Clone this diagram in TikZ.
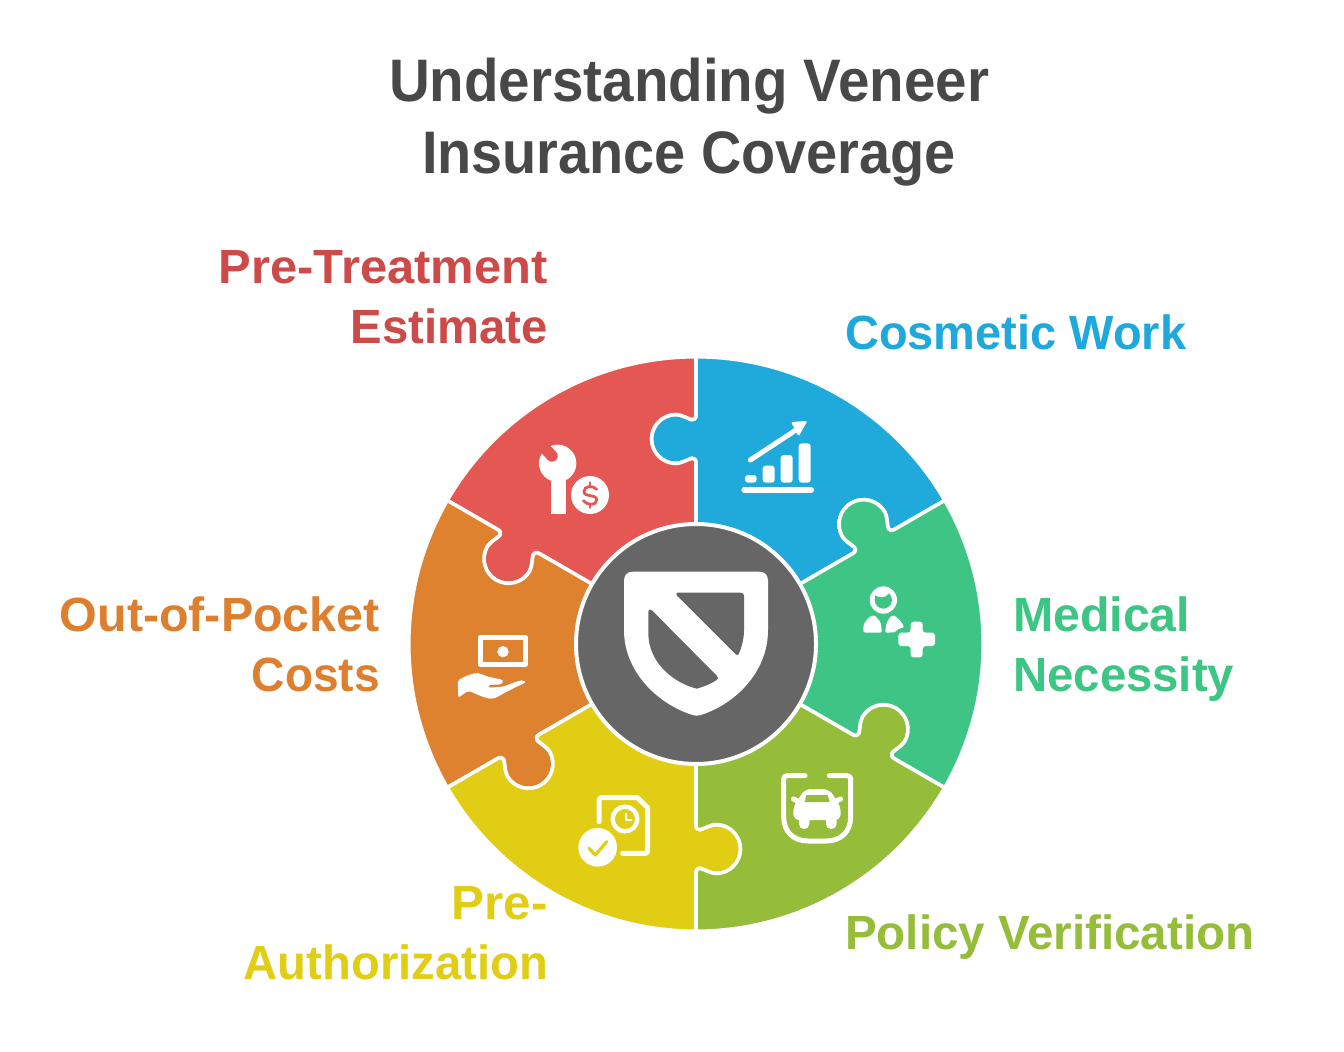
\documentclass[tikz,border=0pt]{standalone}
\usepackage{graphicx}
\usepackage{fontspec}
\setmainfont{Liberation Sans}
\definecolor{cred}{HTML}{E55753}
\definecolor{cblue}{HTML}{1FAADB}
\definecolor{cgreen}{HTML}{3EC585}
\definecolor{colive}{HTML}{95BD3A}
\definecolor{cyellow}{HTML}{E0CD14}
\definecolor{corange}{HTML}{DE8230}
\definecolor{cdark}{HTML}{666666}
\definecolor{ctitle}{HTML}{484848}
\definecolor{tred}{HTML}{CC4A48}
\definecolor{tblue}{HTML}{1EA8DC}
\definecolor{tgreen}{HTML}{3CC583}
\definecolor{tolive}{HTML}{95BD3A}
\definecolor{tyellow}{HTML}{E0CD14}
\definecolor{torange}{HTML}{DD7F2F}
\newlength\fitlen
\newcommand\fitline[2]{\settowidth{\fitlen}{#2}\pgfmathsetmacro\fitratio{#1/\fitlen}\rule{0pt}{40pt}\scalebox{\fitratio}[1]{#2}}
\newcommand\wheelpiece[2]{%
  \pgfmathsetmacro\pa{#1}\pgfmathsetmacro\pb{#1+60}%
  \path[fill=#2,draw=white,line width=3.6pt,line join=round]
    ([rotate=\pa]118,0) -- ([rotate=\pa]181,0)
    .. controls ([rotate=\pa]184.5,0) and ([rotate=\pa]186,2) .. ([rotate=\pa]185.7,4.3)
    .. controls ([rotate=\pa]184,9.5) and ([rotate=\pa]181,13.5) .. ([rotate=\pa]180.5,20)
    .. controls ([rotate=\pa]180.5,33.5) and ([rotate=\pa]191.5,44.5) .. ([rotate=\pa]205,44.5)
    .. controls ([rotate=\pa]218.5,44.5) and ([rotate=\pa]229.5,33.5) .. ([rotate=\pa]229.5,20)
    .. controls ([rotate=\pa]229,13.5) and ([rotate=\pa]226,9.5) .. ([rotate=\pa]224.3,4.3)
    .. controls ([rotate=\pa]224,2) and ([rotate=\pa]225.5,0) .. ([rotate=\pa]229,0)
    -- ([rotate=\pa]287.25,0)
    arc[start angle=\pa,end angle=\pb,radius=287.25]
    -- ([rotate=\pb]229,0)
    .. controls ([rotate=\pb]225.5,0) and ([rotate=\pb]224,2) .. ([rotate=\pb]224.3,4.3)
    .. controls ([rotate=\pb]226,9.5) and ([rotate=\pb]229,13.5) .. ([rotate=\pb]229.5,20)
    .. controls ([rotate=\pb]229.5,33.5) and ([rotate=\pb]218.5,44.5) .. ([rotate=\pb]205,44.5)
    .. controls ([rotate=\pb]191.5,44.5) and ([rotate=\pb]180.5,33.5) .. ([rotate=\pb]180.5,20)
    .. controls ([rotate=\pb]181,13.5) and ([rotate=\pb]184,9.5) .. ([rotate=\pb]185.7,4.3)
    .. controls ([rotate=\pb]186,2) and ([rotate=\pb]184.5,0) .. ([rotate=\pb]181,0)
    -- ([rotate=\pb]118,0)
    arc[start angle=\pb,end angle=\pa,radius=118] -- cycle;}
\tikzset{
  zoomed/.style 2 args={shift={(#1,-#2)},xscale=1/3,yscale=-1/3},
  titletext/.style={inner sep=0pt,anchor=north,align=center,text=ctitle,font=\fontsize{60}{72}\bfseries\selectfont},
  labelleft/.style={inner sep=0pt,anchor=north west,align=left,font=\fontsize{48}{60}\bfseries\selectfont},
  labelright/.style={inner sep=0pt,anchor=north east,align=right,font=\fontsize{48}{60}\bfseries\selectfont},
  iconline/.style={draw=white,line cap=round,line join=round,fill=none},
}
\begin{document}
\begin{tikzpicture}[x=1pt,y=1pt]
\useasboundingbox (0,0) rectangle (1344,-1052);
\fill[white] (0,0) rectangle (1344,-1052);

\node[titletext] (title) at (689,-57.5) {\fitline{600}{Understanding Veneer}\\\fitline{534}{Insurance Coverage}};
\node[labelright,text=tred] (pretreat) at (548,-243) {\fitline{329}{Pre-Treatment}\\\fitline{197}{Estimate}};
\node[labelleft,text=tblue] (cosmetic) at (845,-309) {\fitline{341}{Cosmetic Work}};
\node[labelleft,text=tgreen] (medical) at (1013,-591) {\fitline{177}{Medical}\\\fitline{221}{Necessity}};
\node[labelleft,text=tolive] (policy) at (845,-909) {\fitline{409}{Policy Verification}};
\node[labelright,text=torange] (oop) at (380,-591) {\fitline{320}{Out-of-Pocket}\\\fitline{128}{Costs}};
\node[labelright,text=tyellow] (preauth) at (548,-879) {\fitline{96}{Pre-}\\\fitline{304}{Authorization}};

\begin{scope}[shift={(696,-644)}]
  \wheelpiece{30}{cblue}
  \wheelpiece{90}{cred}
  \wheelpiece{150}{corange}
  \wheelpiece{210}{cyellow}
  \wheelpiece{270}{colive}
  \wheelpiece{330}{cgreen}
  \path[fill=cdark,draw=white,line width=4pt] (0,0) circle[radius=120];
\end{scope}

% shield
\begin{scope}[zoomed={570}{520}]
  \fill[white] (162,182) .. controls (162,165) and (172,155) .. (189,155) -- (567,155)
    .. controls (584,155) and (594,165) .. (594,182) -- (594,330)
    .. controls (594,460) and (490,555) .. (392,585)
    .. controls (384,588) and (376,588) .. (368,585)
    .. controls (270,555) and (162,460) .. (162,330) -- cycle;
  \fill[cdark] (322,218) -- (512,218) .. controls (519,218) and (522,222) .. (522,228) -- (522,330)
    .. controls (522,355) and (516,380) .. (506,402) .. controls (504,406) and (500,406) .. (497,403)
    -- (322,228) .. controls (318,224) and (318,218) .. (322,218) -- cycle;
  \fill[cdark] (235,275) .. controls (235,268) and (241,266) .. (246,271) -- (441,468)
    .. controls (445,473) and (445,477) .. (440,480)
    .. controls (422,492) and (402,500) .. (380,506)
    .. controls (300,485) and (235,420) .. (235,340) -- cycle;
\end{scope}

% wrench and coin
\begin{scope}[zoomed={400}{350}]
  \fill[white] (473,340) circle[radius=56];
  \fill[white] (453,370) rectangle (497,493);
  \draw[cred,line width=11.5pt,line cap=round] (428,288) -- (456,318);
  \fill[white] (570,435) circle[radius=57];
  \draw[cred,line width=2.8pt,line cap=round,line join=round]
    (590,418) .. controls (580,406) and (552,406) .. (552,424)
    .. controls (552,444) and (590,430) .. (590,450)
    .. controls (590,468) and (560,466) .. (550,452);
  \draw[cred,line width=2.8pt,line cap=round] (570,398) -- (570,406) (570,465) -- (570,473);
\end{scope}

% chart
\begin{scope}[zoomed={690}{350}]
  \draw[iconline,line width=6pt] (163,420) -- (363,420);
  \fill[white,rounded corners=3pt] (165,398) -- (165,375) -- (200,375) -- (200,398) -- cycle;
  \fill[white,rounded corners=3pt] (218,398) -- (218,347) -- (254,347) -- (254,398) -- cycle;
  \fill[white,rounded corners=3pt] (272,398) -- (272,315) -- (308,315) -- (308,398) -- cycle;
  \fill[white,rounded corners=3pt] (326,398) -- (326,280) -- (362,280) -- (362,398) -- cycle;
  \draw[iconline,line width=5pt] (181,330) -- (318,240);
  \fill[white,draw=white,line width=2pt,line join=round] (308,219) -- (347,216) -- (326,253) -- cycle;
\end{scope}

% person and plus
\begin{scope}[zoomed={850}{570}]
  \fill[white] (100,90) circle[radius=41];
  \fill[cgreen] (76,76) .. controls (88,86) and (108,84) .. (117,70)
    .. controls (123,76) and (126,83) .. (126,90)
    .. controls (126,104) and (114,116) .. (100,116)
    .. controls (86,116) and (74,104) .. (74,90)
    .. controls (74,85) and (75,80) .. (76,76) -- cycle;
  \fill[white,rounded corners=2pt] (40,188) -- (40,172) .. controls (42,158) and (55,142) .. (72,134)
    -- (92,156) -- (96,188) -- cycle;
  \fill[white,rounded corners=2pt] (105,188) -- (110,156) -- (127,134)
    .. controls (142,142) and (155,156) .. (163,173) .. controls (150,174) and (142,178) .. (138,187) -- cycle;
  \fill[white,rounded corners=3pt] (182,155) -- (218,155) -- (218,188) -- (255,188) -- (255,228) -- (218,228)
    -- (218,262) -- (182,262) -- (182,228) -- (145,228) -- (145,188) -- (182,188) -- cycle;
\end{scope}

% banknote and hand
\begin{scope}[zoomed={445}{620}]
  \draw[iconline,line width=5pt] (105,53) rectangle (241,133);
  \fill[white] (174,95) circle[radius=17];
  \fill[white,rounded corners=2pt] (38,182) .. controls (60,168) and (85,158) .. (105,160)
    .. controls (120,168) and (150,176) .. (170,177) -- (176,185) -- (170,193) -- (130,195) -- (130,203)
    -- (175,200) .. controls (195,192) and (215,184) .. (235,180) -- (243,187)
    .. controls (215,200) and (185,215) .. (155,232) .. controls (135,240) and (115,232) .. (70,212)
    -- (40,233) -- cycle;
\end{scope}

% car shield
\begin{scope}[zoomed={690}{640}]
  \draw[iconline,line width=5pt] (345,407) -- (292,407) .. controls (285,407) and (281,410) .. (281,417) -- (281,530)
    .. controls (281,575) and (310,603) .. (355,603) -- (408,603)
    .. controls (453,603) and (482,575) .. (482,530) -- (482,417)
    .. controls (482,410) and (478,407) .. (471,407) -- (418,407);
  \fill[white,rounded corners=6pt] (310,540) -- (310,498) -- (330,470) -- (345,447) -- (417,447) -- (432,470) -- (452,498) -- (452,540) -- cycle;
  \draw[iconline,line width=5pt] (310,477) -- (326,484) (452,477) -- (436,484);
  \fill[white,rounded corners=5pt] (327,525) -- (358,525) -- (358,567) -- (327,567) -- cycle;
  \fill[white,rounded corners=5pt] (408,525) -- (440,525) -- (440,567) -- (408,567) -- cycle;
  \fill[colive] (349,465) -- (413,465) -- (419,486) -- (344,486) -- cycle;
\end{scope}

% document, clock, check
\begin{scope}[zoomed={400}{640}]
  \draw[iconline,line width=5pt] (597,545) -- (597,482) .. controls (597,476) and (600,473) .. (606,473)
    -- (712,473) -- (743,503) -- (743,632) .. controls (743,638) and (740,640) .. (735,640) -- (668,640);
  \draw[white,line width=4.4pt] (675,537) circle[radius=37];
  \draw[iconline,line width=2.2pt] (677,520) -- (677,540) -- (695,540);
  \fill[white] (593,622) circle[radius=58];
  \draw[cyellow,line width=3.2pt,line cap=round,line join=round] (567,625) -- (586,645) -- (620,605);
\end{scope}
\end{tikzpicture}
\end{document}
